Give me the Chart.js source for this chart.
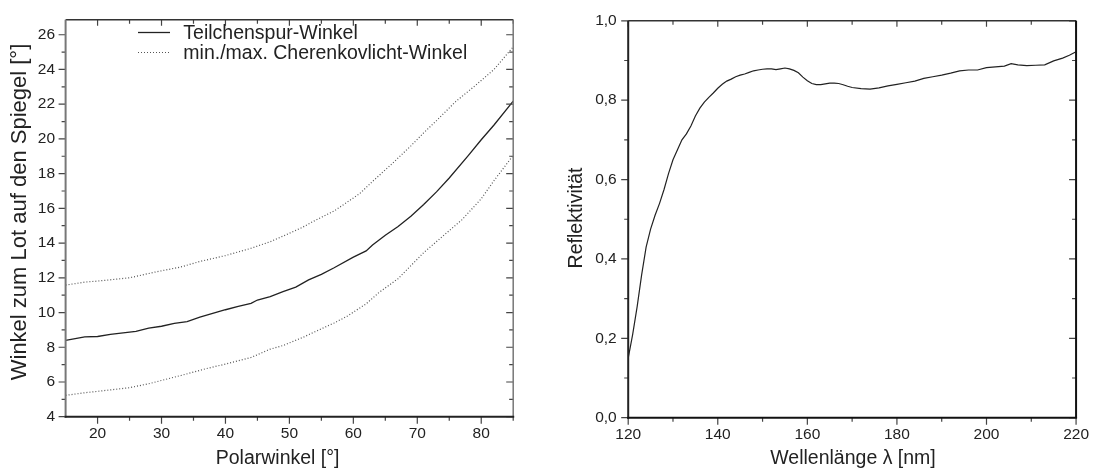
<!DOCTYPE html>
<html><head><meta charset="utf-8">
<script src="https://cdn.jsdelivr.net/npm/chart.js@4.4.1/dist/chart.umd.min.js"></script>
<style>
html,body{margin:0;padding:0;background:#fff;overflow:hidden}
#wrap{position:relative;width:1097px;height:471px;background:#fff}
.box{position:absolute;top:0;height:471px}
#b1{left:0;width:548px}
#b2{left:548px;width:549px}
</style></head><body>
<div id="wrap"><div class="box" id="b1"><canvas id="c1"></canvas></div><div class="box" id="b2"><canvas id="c2"></canvas></div></div>
<script>
// ---------- Left chart data ----------
const trackX = [15,18,20,22,24,26,28,30,32,34,36,38,40,42,44,45,47,49,51,53,55,57,60,62,63,65,67,69,71,73,75,78,80,82,85];
const trackY = [8.40,8.60,8.62,8.74,8.83,8.92,9.10,9.21,9.38,9.48,9.73,9.95,10.16,10.35,10.53,10.72,10.92,11.20,11.46,11.88,12.20,12.58,13.19,13.55,13.89,14.45,14.95,15.55,16.22,16.95,17.75,19.05,19.95,20.80,22.18];
const maxX = [15,18,20,25,29,33,36,40,44,47,49,52,54,57,59,61,63,66,69,71,73,76,79,82,85];
const maxY = [11.58,11.75,11.81,12.00,12.33,12.62,12.94,13.28,13.70,14.08,14.40,14.90,15.30,15.85,16.35,16.85,17.55,18.55,19.60,20.35,21.05,22.15,23.05,24.00,25.30];
const minX = [15,18,20,25,28,30,33,37,40,44,47,49,52,54,57,59,62,64,67,69,71,74,77,79,80,82,85];
const minY = [5.23,5.38,5.46,5.67,5.90,6.09,6.37,6.77,7.03,7.41,7.89,8.10,8.55,8.89,9.40,9.78,10.50,11.15,11.95,12.70,13.45,14.40,15.35,16.15,16.55,17.60,19.05];
const xTicksL = [20,30,40,50,60,70,80];
const xMinorL = [25,35,45,55,65,75,85];
const yTicksL = [4,6,8,10,12,14,16,18,20,22,24,26];
const yMinorL = [5,7,9,11,13,15,17,19,21,23,25];

// ---------- Right chart data ----------
const waveX = [120,121,122,123,124,125,126,127,128,129,130,131,132,133,134,135,136,137,138,139,140,141,142,143,144,145,146,147,148,149,150,151,152,153,154,155,156,157,158,159,160,161,162,163,164,165,166,167,168,169,170,172,174,176,178,180,182,184,186,188,190,192,194,196,198,200,202,204,205.5,207,209,211,213,215,217,218.5,220];
const reflY = [0.15,0.21,0.28,0.36,0.43,0.475,0.51,0.54,0.575,0.615,0.65,0.675,0.70,0.715,0.735,0.76,0.78,0.795,0.807,0.818,0.83,0.84,0.848,0.853,0.859,0.863,0.866,0.87,0.874,0.876,0.878,0.879,0.879,0.877,0.879,0.881,0.879,0.875,0.869,0.858,0.849,0.842,0.839,0.839,0.841,0.843,0.843,0.842,0.839,0.835,0.832,0.829,0.828,0.831,0.836,0.840,0.844,0.848,0.855,0.859,0.863,0.868,0.874,0.876,0.876,0.882,0.884,0.886,0.892,0.889,0.887,0.888,0.889,0.899,0.906,0.913,0.922];
const xTicksR = [120,140,160,180,200,220];
const xMinorR = [130,150,170,190,210];
const yTicksR = [0,0.2,0.4,0.6,0.8,1.0];
const yMinorR = [0.1,0.3,0.5,0.7,0.9];

const FONT = "'Liberation Sans', Arial, Helvetica, sans-serif";
const pts = (xs, ys) => xs.map((x, i) => ({x, y: ys[i]}));

const framePlugin = {
  id: 'frame',
  afterDraw(chart, args, o) {
    const {ctx, chartArea: a, scales: {x, y}} = chart;
    ctx.save();
    ctx.strokeStyle = '#444';
    ctx.lineWidth = 1.2;
    ctx.beginPath();
    const tx = (v, outL, inL) => {
      const px = x.getPixelForValue(v);
      ctx.moveTo(px, a.bottom); ctx.lineTo(px, a.bottom + outL);
      ctx.moveTo(px, a.top); ctx.lineTo(px, a.top + inL);
    };
    const ty = (v, outL, inL) => {
      const py = y.getPixelForValue(v);
      ctx.moveTo(a.left, py); ctx.lineTo(a.left - outL, py);
      ctx.moveTo(a.right, py); ctx.lineTo(a.right - inL, py);
    };
    o.xMajor.forEach(v => tx(v, 7, 6));
    o.xMinor.forEach(v => tx(v, 4, 4));
    o.yMajor.forEach(v => ty(v, 7, 7));
    o.yMinor.forEach(v => ty(v, 4, 4));
    ctx.stroke();
    const line = (x1, y1, x2, y2, c, w) => {
      ctx.strokeStyle = c; ctx.lineWidth = w;
      ctx.beginPath(); ctx.moveTo(x1, y1); ctx.lineTo(x2, y2); ctx.stroke();
    };
    const b = o.border;
    line(a.left, a.top, a.right, a.top, b.top[0], b.top[1]);
    line(a.right, a.top, a.right, a.bottom, b.right[0], b.right[1]);
    line(a.left, a.top, a.left, a.bottom + 1, b.left[0], b.left[1]);
    line(a.left - 1, a.bottom, a.right + 1, a.bottom, b.bottom[0], b.bottom[1]);
    // axis titles
    ctx.fillStyle = '#222';
    ctx.textAlign = 'center';
    ctx.textBaseline = 'middle';
    ctx.font = o.xTitle.size + 'px ' + FONT;
    ctx.fillText(o.xTitle.text, o.xTitle.x, o.xTitle.y);
    ctx.save();
    ctx.translate(o.yTitle.x, o.yTitle.y);
    ctx.rotate(-Math.PI / 2);
    ctx.font = o.yTitle.size + 'px ' + FONT;
    ctx.fillText(o.yTitle.text, 0, 0);
    ctx.restore();
    ctx.restore();
  }
};

const legendPlugin = {
  id: 'inlegend',
  afterDraw(chart, args, o) {
    if (!o.items) return;
    const ctx = chart.ctx;
    ctx.save();
    o.items.forEach((it, i) => {
      const ds = chart.data.datasets[it.ds];
      ctx.strokeStyle = ds.borderColor;
      ctx.lineWidth = ds.borderWidth;
      ctx.setLineDash(ds.borderDash || []);
      ctx.beginPath();
      ctx.moveTo(o.x0, it.ly); ctx.lineTo(o.x1, it.ly);
      ctx.stroke();
      ctx.setLineDash([]);
      ctx.fillStyle = '#222';
      ctx.font = "19.5px " + FONT;
      ctx.textBaseline = 'alphabetic';
      ctx.fillText(ds.label, o.tx, it.ty);
    });
    ctx.restore();
  }
};

function scaleOpts(min, max, ticks, fmt, pad, fitKey, fitVal) {
  return {
    type: 'linear', min, max,
    grid: {display: false, drawTicks: false, tickLength: 0},
    border: {display: false},
    afterBuildTicks: s => { s.ticks = ticks.map(v => ({value: v})); },
    afterFit: s => { s[fitKey] = fitVal; },
    ticks: {color: '#222', font: {family: FONT, size: 15.5}, padding: pad, callback: fmt, maxRotation: 0, autoSkip: false},
    title: {display: false}
  };
}

new Chart(document.getElementById('c1'), {
  type: 'line',
  data: {datasets: [
    {label: 'Teilchenspur-Winkel', data: pts(trackX, trackY), borderColor: '#222', borderWidth: 1.3, pointRadius: 0, tension: 0, fill: false},
    {label: 'min./max. Cherenkovlicht-Winkel', data: pts(maxX, maxY), borderColor: '#555', borderWidth: 1.2, borderDash: [1, 2], pointRadius: 0, tension: 0, fill: false},
    {label: 'min./max. Cherenkovlicht-Winkel', data: pts(minX, minY), borderColor: '#555', borderWidth: 1.2, borderDash: [1, 2], pointRadius: 0, tension: 0, fill: false}
  ]},
  options: {
    responsive: true, maintainAspectRatio: false, animation: false, devicePixelRatio: 1,
    layout: {padding: {top: 14.3, right: 34.8, left: 0, bottom: 0}},
    scales: {
      x: scaleOpts(15, 85, xTicksL, v => String(v), 8, 'height', 54.3),
      y: scaleOpts(4, 26.86, yTicksL, v => String(v), 10.5, 'width', 65.6)
    },
    plugins: {
      legend: {display: false}, tooltip: {enabled: false},
      frame: {xMajor: xTicksL, xMinor: xMinorL, yMajor: yTicksL, yMinor: yMinorL,
        border: {top: ['#333', 1.5], right: ['#777', 1.5], left: ['#777', 2], bottom: ['#222', 2]},
        xTitle: {text: 'Polarwinkel [°]', x: 277.6, y: 459, size: 19.5},
        yTitle: {text: 'Winkel zum Lot auf den Spiegel [°]', x: 19.5, y: 212, size: 22}},
      inlegend: {x0: 138, x1: 170, tx: 183.3, items: [{ds: 0, ly: 32.5, ty: 38.8}, {ds: 1, ly: 52.5, ty: 59}]}
    }
  },
  plugins: [framePlugin, legendPlugin]
});

new Chart(document.getElementById('c2'), {
  type: 'line',
  data: {datasets: [
    {label: 'Reflektivität', data: pts(waveX, reflY), borderColor: '#222', borderWidth: 1.2, pointRadius: 0, tension: 0, fill: false}
  ]},
  options: {
    responsive: true, maintainAspectRatio: false, animation: false, devicePixelRatio: 1,
    layout: {padding: {top: 14, right: 20, left: 0, bottom: 0}},
    scales: {
      x: scaleOpts(120, 220, xTicksR, v => String(v), 8, 'height', 53.3),
      y: scaleOpts(0, 1, yTicksR, v => v.toFixed(1).replace('.', ','), 11.5, 'width', 80.2)
    },
    plugins: {
      legend: {display: false}, tooltip: {enabled: false},
      frame: {xMajor: xTicksR, xMinor: xMinorR, yMajor: yTicksR, yMinor: yMinorR,
        border: {top: ['#333', 1.5], right: ['#111', 2], left: ['#222', 2], bottom: ['#111', 2]},
        xTitle: {text: 'Wellenlänge λ [nm]', x: 853 - 548, y: 459, size: 19.5},
        yTitle: {text: 'Reflektivität', x: 577 - 548, y: 218, size: 19.5}}
    }
  },
  plugins: [framePlugin]
});
</script>
</body></html>
